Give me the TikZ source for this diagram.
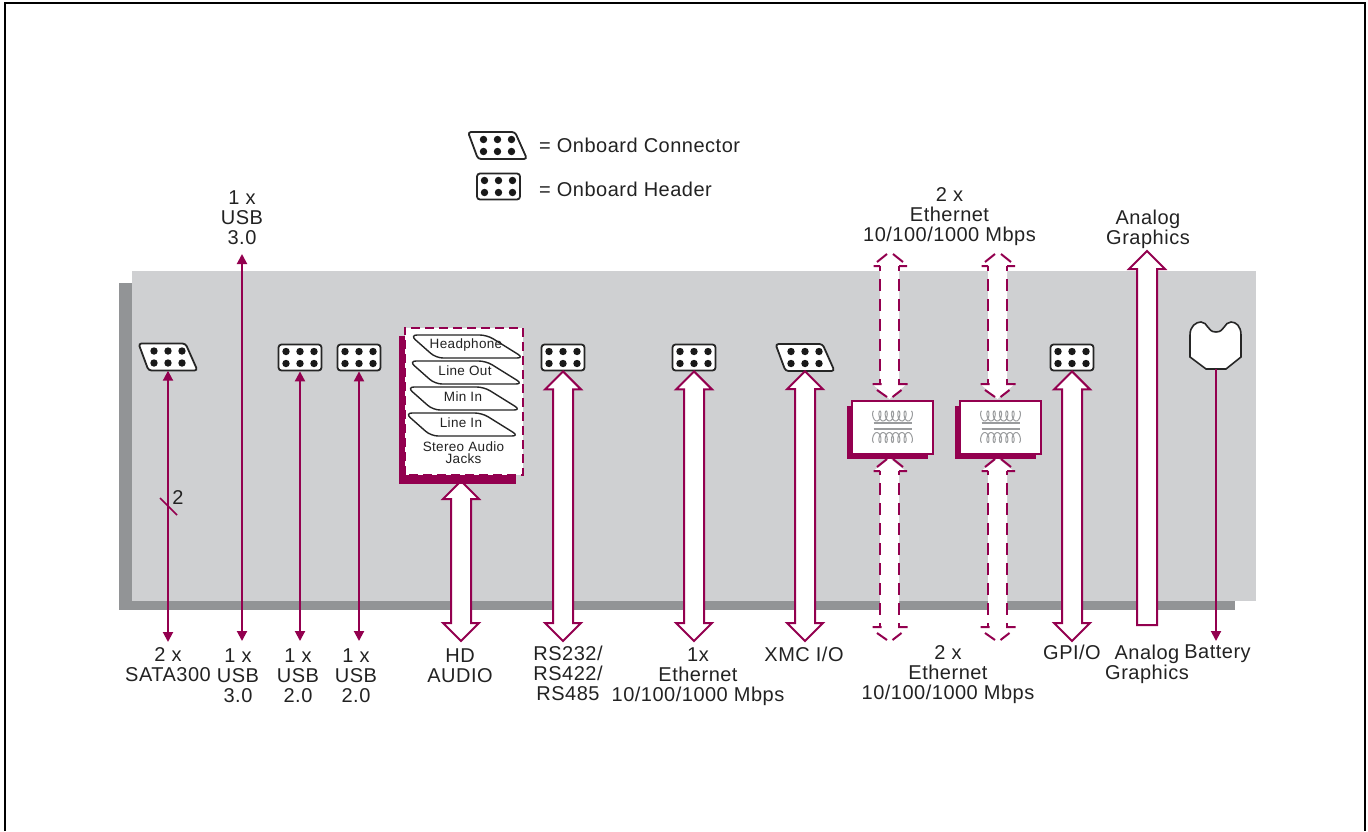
\documentclass[tikz,border=0pt]{standalone}
\usepackage{fontspec}
\setmainfont[LetterSpace=2.5]{Liberation Sans}
\usetikzlibrary{calc,arrows.meta}
\definecolor{mag}{HTML}{93004F}
\definecolor{boardc}{HTML}{CFD0D2}
\definecolor{shadowc}{HTML}{929496}
\definecolor{txt}{HTML}{222222}
\definecolor{coilc}{HTML}{9A9C9E}
\tikzset{
  x=1pt,y=-1pt,
  lab/.style={inner sep=0pt,align=center,text=txt,font=\fontsize{20}{20}\selectfont},
  legend/.style={lab,anchor=west},
  jacktext/.style={inner sep=0pt,align=center,text=txt,font=\fontsize{13.5}{12}\selectfont},
  hdrbox/.style={draw=black!85,line width=1.8pt,fill=white,rounded corners=3pt,minimum width=43pt,minimum height=26pt,inner sep=0pt},
  connbox/.style={inner sep=0pt,minimum width=60pt,minimum height=27pt},
  iconline/.style={draw=black!85,line width=1.8pt,fill=white,rounded corners=3pt},
  blockline/.style={draw=mag,line width=2pt,fill=white,miter limit=10},
  headpiece/.style={draw=mag,line width=2pt},
  thinarrow/.style={draw=mag,line width=2pt,{Triangle[length=10pt,width=10pt]}-{Triangle[length=10pt,width=10pt]}},
  thinarrowend/.style={draw=mag,line width=2pt,-{Triangle[length=10pt,width=10pt]}},
  xfbox/.style={draw=mag,line width=1.6pt,fill=white,minimum width=81pt,minimum height=53pt,inner sep=0pt},
  coilline/.style={draw=coilc,line width=1pt},
  jackshape/.style={draw=black!85,line width=1.4pt,fill=white,rounded corners=7pt},
}
\newcommand\sixdots[1]{\foreach \dx in {-14,0,14}\foreach \dy in {-6,6}\fill[black!90] ($(#1.center)+(\dx,\dy)$) circle (3.7pt);}
\newcommand\hdr[3]{\node[hdrbox] (#1) at (#2,#3) {};\sixdots{#1}}
\newcommand\conn[3]{\node[connbox] (#1) at (#2,#3) {};
  \path[iconline,shift={(#1.center)}] (-29.5,-13.5) -- (17.5,-13.5) -- (29.5,13.5) -- (-19.5,13.5) -- cycle;\sixdots{#1}}
\newcommand\blockarrow[2]{\draw[blockline] let \p1=(#1),\p2=(#2) in
  (\p1) -- ++(18,18) -- ++(-8,0) -- (\x1+10pt,\y2+18pt) -- ++(8,0) -- (\p2) -- (\x1-18pt,\y2+18pt) -- ++(8,0) -- (\x1-10pt,\y1-18pt) -- ++(-8,0) -- cycle;}
\newcommand\singlearrow[2]{\draw[blockline] let \p1=(#1),\p2=(#2) in
  (\p1) -- ++(18,18) -- ++(-8,0) -- (\x1+10pt,\y2) -- (\x1-10pt,\y2) -- (\x1-10pt,\y1-18pt) -- ++(-8,0) -- cycle;}
% dashed double arrow: #1 top tip, #2 bottom tip, #3 dash phase
\newcommand\dasharrow[3]{
  \fill[white] let \p1=(#1),\p2=(#2) in
    (\p1) -- ++(16,13) -- ++(-6.5,0) -- (\x1+9.5pt,\y2+14pt) -- ++(6.5,0) -- (\p2) -- (\x1-16pt,\y2+14pt) -- ++(6.5,0) -- (\x1-9.5pt,\y1-13pt) -- ++(-6.5,0) -- cycle;
  \draw[headpiece] let \p1=(#1),\p2=(#2) in
    ($(\p1)+(-12.5,9)$) -- ($(\p1)+(-2.5,1)$)
    ($(\p1)+(3.5,1)$) -- ($(\p1)+(13.5,9)$)
    ($(\p1)+(-16,13)$) -- ($(\p1)+(-9.5,13)$)
    ($(\p1)+(9.5,13)$) -- ($(\p1)+(17.5,13)$)
    ($(\p2)+(-12.5,-9)$) -- ($(\p2)+(-2.5,-2)$)
    ($(\p2)+(3,-2)$) -- ($(\p2)+(12,-9)$)
    ($(\p2)+(-17,-15)$) -- ($(\p2)+(-8,-15)$)
    ($(\p2)+(8.5,-15)$) -- ($(\p2)+(18,-15)$);
  \draw[headpiece,dash pattern=on 12pt off 8pt,dash phase=#3pt] let \p1=(#1),\p2=(#2) in
    (\x1-9.5pt,\y1-13pt) -- (\x1-9.5pt,\y2+15pt)
    (\x1+9.5pt,\y1-13pt) -- (\x1+9.5pt,\y2+15pt);
}
\newcommand\coil[1]{\begin{scope}[shift={(#1)}]
  \draw[coilline] plot[domain=0:37.7,samples=130] ({\x-18.85-2.4*sin(\x r)},{-11.5-5*cos(\x r)});
  \draw[coilline] plot[domain=0:37.7,samples=130] ({\x-18.85-2.4*sin(\x r)},{10+5*cos(\x r)});
  \draw[coilline,line width=1.2pt] (-19,-4.5) -- (19,-4.5) (-19,1.5) -- (19,1.5);
\end{scope}}
\begin{document}
\begin{tikzpicture}
\useasboundingbox (0,0) rectangle (1368,831);
% frame
\draw[black,line width=1.6pt] (5,831) -- (5,3) -- (1365,3) -- (1365,831);
% board
\fill[shadowc] (119,283) rectangle (1235,610);
\fill[boardc] (132,271) rectangle (1256,601);
% legend
\conn{lconn}{497.5}{145.5}
\hdr{lhdr}{498.5}{186.5}
\node[legend] (ltc) at (539,145.5) {= Onboard Connector};
\node[legend] (lth) at (539,189.5) {= Onboard Header};
% top labels
\node[lab] (usbtop) at (242,218) {1 x\\USB\\3.0};
\node[lab] (ethtop) at (949.5,217) {2 x\\Ethernet\\10/100/1000 Mbps};
\node[lab] (agtop) at (1148,229) {Analog\\Graphics};
% bottom labels
\node[lab] (sata) at (168,665) {2 x\\SATA300};
\node[lab] (usb3) at (238,675.5) {1 x\\USB\\3.0};
\node[lab] (usb2a) at (298,675.5) {1 x\\USB\\2.0};
\node[lab] (usb2b) at (356,675.5) {1 x\\USB\\2.0};
\node[lab] (hda) at (460,665.5) {HD\\AUDIO};
\node[lab] (rs) at (568,673.5) {RS232/\\RS422/\\RS485};
\node[lab] (eth1) at (698,676.5) {1x\\Ethernet\\10/100/1000 Mbps};
\node[lab] (xmc) at (804,654.5) {XMC I/O};
\node[lab] (eth2) at (948,674.5) {2 x\\Ethernet\\10/100/1000 Mbps};
\node[lab] (gpio) at (1072,652.5) {GPI/O};
\node[lab] (agbot) at (1147,664) {Analog\\Graphics};
\node[lab] (batt) at (1217.5,654) {Battery};
% icons on board
\conn{csata}{168}{357}
\hdr{h1}{300}{357.5}
\hdr{h2}{359}{357.5}
\hdr{h3}{563}{357.5}
\hdr{h4}{694}{357.5}
\conn{cxmc}{805}{357.5}
\hdr{h5}{1072}{357.5}
% free ends
\coordinate (e1) at (168,642);
\coordinate (e2t) at (242,254);
\coordinate (e2b) at (242,641);
\coordinate (e3) at (300,641);
\coordinate (e4) at (359,641);
\coordinate (e5) at (1216,641);
\coordinate (b0t) at (461,481);
\coordinate (b0b) at (461,641);
\coordinate (b1) at (563,641);
\coordinate (b2) at (694,641);
\coordinate (b3) at (805,641);
\coordinate (b4) at (1072,641);
\coordinate (agt) at (1147,251);
\coordinate (agb) at (1147,625);
\coordinate (d1a) at (889.5,253);
\coordinate (d1b) at (889.5,399);
\coordinate (d1c) at (889.5,458);
\coordinate (d1d) at (889.5,642);
\coordinate (d2a) at (997.5,253);
\coordinate (d2b) at (997.5,399);
\coordinate (d2c) at (997.5,458);
\coordinate (d2d) at (997.5,642);
% thin arrows
\draw[thinarrow] (csata.south) -- (e1);
\draw[thinarrow] (e2t) -- (e2b);
\draw[thinarrow] (h1.south) -- (e3);
\draw[thinarrow] (h2.south) -- (e4);
\coordinate (sl1) at (160,498);
\coordinate (sl2) at (177,515);
\draw[mag,line width=1.5pt] (sl1) -- (sl2);
\node[lab] (two) at (178,498) {2};
% block arrows
\blockarrow{b0t}{b0b}
\blockarrow{h3.south}{b1}
\blockarrow{h4.south}{b2}
\blockarrow{cxmc.south}{b3}
\blockarrow{h5.south}{b4}
\singlearrow{agt}{agb}
\dasharrow{d1a}{d1b}{7}
\dasharrow{d1c}{d1d}{8}
\dasharrow{d2a}{d2b}{7}
\dasharrow{d2c}{d2d}{8}
% transformers
\fill[mag] (847,406) rectangle (928,459);
\fill[mag] (955,406) rectangle (1036,459);
\node[xfbox] (t1) at (892.5,427.5) {};
\node[xfbox] (t2) at (1000.5,427.5) {};
\coil{t1.center}
\coil{t2.center}
% audio box
\fill[mag] (399,336) rectangle (516,484);
\node[fill=white,minimum width=118pt,minimum height=147pt,inner sep=0pt] (audio) at (464,401.5) {};
\draw[mag,line width=2pt,dash pattern=on 9pt off 5pt] (audio.south west) -- (audio.north west) -- (audio.north east) -- (audio.south east) -- cycle;
\coordinate (p1) at (466,345);
\coordinate (p2) at (465,371);
\coordinate (p3) at (463,397);
\coordinate (p4) at (461,423);
\foreach \n in {p1,p2,p3,p4}{
 \path[jackshape,shift={(\n)}] (-56,-10) -- (21,-10) -- (58,13) -- (-30,13) -- cycle;
}
\node[jacktext] (j1) at (p1) {Headphone};
\node[jacktext] (j2) at (p2) {Line Out};
\node[jacktext] (j3) at (p3) {Min In};
\node[jacktext] (j4) at (p4) {Line In};
\node[jacktext] (stereo) at (463.5,453) {Stereo Audio\\Jacks};
% battery
\coordinate (bt) at (1216,369);
\draw[black!85,line width=1.6pt,fill=white] (1190,357) -- (1190,335)
  .. controls (1190,326) and (1196,322) .. (1201,322)
  .. controls (1208,322) and (1207,332) .. (1216,332)
  .. controls (1225,332) and (1224,322) .. (1231,322)
  .. controls (1236,322) and (1241,326) .. (1241,335)
  -- (1241,357) -- (1226,369) -- (1206,369) -- cycle;
\draw[thinarrowend] (bt) -- (e5);
\end{tikzpicture}
\end{document}
